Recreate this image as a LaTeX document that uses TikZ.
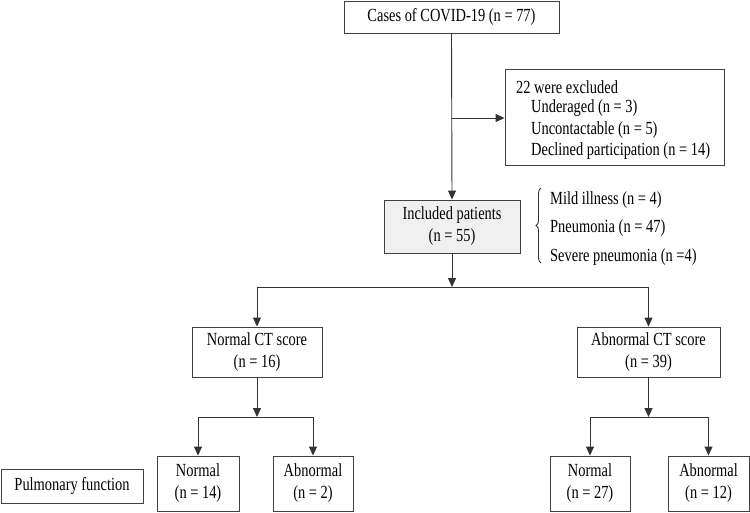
\documentclass[tikz,border=0pt]{standalone}
\usepackage{fontspec}
\setmainfont{Liberation Serif}[FakeStretch=0.78]
\usetikzlibrary{arrows.meta,decorations.pathreplacing}
\begin{document}
\begin{tikzpicture}[x=1pt,y=-1pt,
  every node/.style={font=\fontsize{18.5}{22}\selectfont},
  box/.style={draw=black!75,line width=0.9pt,rectangle,inner sep=0pt,align=center},
  txt/.style={inner sep=0pt,anchor=west},
  conn/.style={draw=black!80,line width=0.9pt},
  arr/.style={conn,-{Triangle[length=9pt,width=8pt]}}]
\useasboundingbox (0,0) rectangle (750,512);
% boxes
\node[box,minimum width=215pt,minimum height=32pt] (top) at (451.5,17) {Cases of COVID-19 (n = 77)};
\node[box,minimum width=219pt,minimum height=96pt] (excl) at (614.5,117) {};
\node[txt] (e1) at (516,87) {22 were excluded};
\node[txt] (e2) at (531,108.5) {Underaged (n = 3)};
\node[txt] (e3) at (531,130) {Uncontactable (n = 5)};
\node[txt] (e4) at (531,151) {Declined participation (n = 14)};
\node[box,fill=black!6,minimum width=136pt,minimum height=53pt] (inc) at (452,226.5) {Included patients\\(n = 55)};
\node[txt] (m1) at (550,200) {Mild illness (n = 4)};
\node[txt] (m2) at (550,228) {Pneumonia (n = 47)};
\node[txt] (m3) at (550,257) {Severe pneumonia (n =4)};
\node[box,minimum width=130pt,minimum height=50pt] (nct) at (257,352) {Normal CT score\\(n = 16)};
\node[box,minimum width=143pt,minimum height=50pt] (act) at (648.5,352) {Abnormal CT score\\(n = 39)};
\node[box,minimum width=82pt,minimum height=55pt] (n1) at (198,483.5) {Normal\\(n = 14)};
\node[box,minimum width=80pt,minimum height=55pt] (a1) at (313,483.5) {Abnormal\\(n = 2)};
\node[box,minimum width=80pt,minimum height=55pt] (n2) at (590,483.5) {Normal\\(n = 27)};
\node[box,minimum width=81pt,minimum height=55pt] (a2) at (708.5,483.5) {Abnormal\\(n = 12)};
\node[box,minimum width=142pt,minimum height=34pt] (pf) at (72,486) {Pulmonary function};
% connectors
\coordinate (sp) at (451.5,118);
\draw[arr] (top.south) -- (inc.north);
\draw[arr] (sp) -- (excl.west|-sp);
\draw[conn,decorate,decoration={brace,amplitude=5pt}] (541,263) -- (541,188);
\coordinate (j1) at (452,287);
\draw[arr] (inc.south) -- (j1);
\draw[conn] (nct.north|-j1) -- (act.north|-j1);
\draw[arr] (nct.north|-j1) -- (nct.north);
\draw[arr] (act.north|-j1) -- (act.north);
\coordinate (j2) at (257,417);
\coordinate (j3) at (648.5,417);
\draw[arr] (nct.south) -- (j2);
\draw[arr] (act.south) -- (j3);
\draw[conn] (n1.north|-j2) -- (a1.north|-j2);
\draw[conn] (n2.north|-j3) -- (a2.north|-j3);
\draw[arr] (n1.north|-j2) -- (n1.north);
\draw[arr] (a1.north|-j2) -- (a1.north);
\draw[arr] (n2.north|-j3) -- (n2.north);
\draw[arr] (a2.north|-j3) -- (a2.north);
\end{tikzpicture}
\end{document}
